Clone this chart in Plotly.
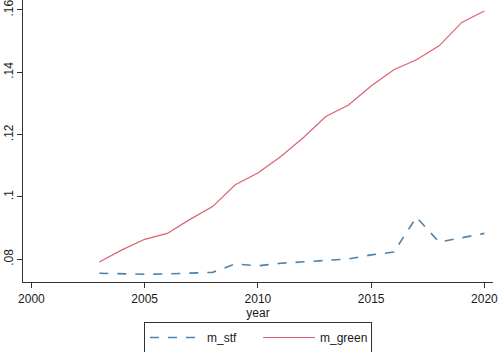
import plotly.graph_objects as go

years = list(range(2003, 2021))
m_stf = [0.0755, 0.0753, 0.0752, 0.0753, 0.0755, 0.0758, 0.0785, 0.0779, 0.0787,
         0.0792, 0.0795, 0.0801, 0.0814, 0.0823, 0.0935, 0.0855, 0.0869, 0.0883]
m_green = [0.0791, 0.0830, 0.0864, 0.0883, 0.0928, 0.0969, 0.1039, 0.1077, 0.1129,
           0.1190, 0.1258, 0.1295, 0.1356, 0.1408, 0.1440, 0.1485, 0.1560, 0.1597]

x_ticks = [2000, 2005, 2010, 2015, 2020]
y_ticks = [0.08, 0.10, 0.12, 0.14, 0.16]
y_tick_text = [".08", ".1", ".12", ".14", ".16"]

fig = go.Figure()
fig.add_trace(go.Scatter(x=years, y=m_stf, mode="lines", name="m_stf",
                         line=dict(color="#4f82aa", width=1.6, dash="dash")))
fig.add_trace(go.Scatter(x=years, y=m_green, mode="lines", name="m_green",
                         line=dict(color="#d8646f", width=1.2)))

axis_font = dict(family="Liberation Sans, Arial, sans-serif", size=12, color="#1a1a1a")

fig.update_layout(
    width=498, height=352,
    margin=dict(l=23, r=5, t=0, b=70, autoexpand=False),
    paper_bgcolor="white", plot_bgcolor="white",
    font=axis_font,
    showlegend=True,
    legend=dict(orientation="h", x=0.5, xanchor="center", y=-0.1968, yanchor="middle",
                bordercolor="#333333", borderwidth=1, bgcolor="white",
                font=axis_font, itemwidth=52, entrywidth=46, entrywidthmode="pixels",
                traceorder="normal"),
    xaxis=dict(range=[1999.63, 2020.38], tickvals=x_ticks, ticktext=[str(v) for v in x_ticks],
               showgrid=False, zeroline=False, showline=True, linecolor="#333333", linewidth=1,
               ticks="outside", ticklen=5, tickcolor="#333333", automargin=False,
               ticklabeloverflow="allow", ticklabelstandoff=1,
               title=dict(text="year", font=axis_font, standoff=2)),
    yaxis=dict(range=[0.0727, 0.1632], tickvals=y_ticks, ticktext=y_tick_text,
               tickangle=-90, showgrid=False, zeroline=False, showline=True,
               linecolor="#333333", linewidth=1, ticks="outside", ticklen=5,
               tickcolor="#333333", automargin=False, ticklabeloverflow="allow",
               ticklabelstandoff=-1),
)

fig.write_html("out.html", config={"displayModeBar": False},
               post_script="document.body.style.margin='0';document.body.style.overflow='hidden';")
